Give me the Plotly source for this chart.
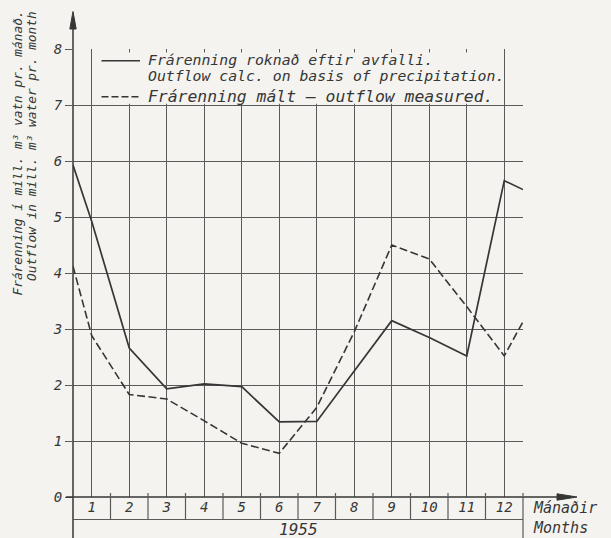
import plotly.graph_objects as go

# ---------------- data ----------------
months = [1, 2, 3, 4, 5, 6, 7, 8, 9, 10, 11, 12]
month_labels = ["1", "2", "3", "4", "5", "6", "7", "8", "9", "10", "11", "12"]
# x positions of plotted points (line starts at the y-axis and ends at the right frame)
x_points = [0.5, 1, 2, 3, 4, 5, 6, 7, 8, 9, 10, 11, 12, 12.5]
outflow_calculated = [5.93, 4.92, 2.66, 1.93, 2.02, 1.97, 1.34, 1.35, 2.25, 3.15, 2.85, 2.52, 5.65, 5.49]
outflow_measured = [4.12, 2.88, 1.83, 1.75, 1.36, 0.96, 0.78, 1.60, 2.95, 4.50, 4.25, 3.40, 2.52, 3.13]
y_ticks = [0, 1, 2, 3, 4, 5, 6, 7, 8]
year_label = "1955"
name_calc = ["Frárenning roknað eftir avfalli.", "Outflow calc. on basis of precipitation."]
name_meas = "Frárenning mált – outflow measured."
y_title = ["Frárenning í mill. m³ vatn pr. mánað.", "Outflow in mill. m³ water pr. month"]
x_title = ["Mánaðir", "Months"]

# ---------------- style ----------------
BG = "#f4f3ef"
INK = "#363636"
GRID = "#5a5a5a"
FONT = "DejaVu Sans Mono"

W, H = 611, 538
ML, MR, MT, MB = 73, 88, 49, 41
PW = W - ML - MR
PH = H - MT - MB


def px(xp):
    return (xp - ML) / PW


def py(yp):
    return (H - MB - yp) / PH


fig = go.Figure()
fig.add_trace(go.Scatter(x=x_points, y=outflow_calculated, mode="lines",
                         line=dict(color=INK, width=1.7), name=" ".join(name_calc),
                         showlegend=False))
fig.add_trace(go.Scatter(x=x_points, y=outflow_measured, mode="lines",
                         line=dict(color=INK, width=1.6, dash="8px,3.5px"), name=name_meas,
                         showlegend=False))

shapes = []
# hide vertical grid behind legend text
shapes.append(dict(type="rect", xref="x", yref="y", x0=1.05, x1=11.95, y0=7.025, y1=7.94,
                   fillcolor=BG, line=dict(width=0), layer="between"))
# y axis line + arrow
shapes.append(dict(type="line", xref="paper", yref="paper", x0=0, x1=0, y0=py(H), y1=py(25),
                   line=dict(color=INK, width=1.5)))
shapes.append(dict(type="path", xref="paper", yref="paper",
                   path=f"M {px(ML)} {py(11.5)} L {px(ML-3.2)} {py(29)} L {px(ML+3.2)} {py(29)} Z",
                   fillcolor=INK, line=dict(color=INK, width=1)))
# x axis line + arrow
shapes.append(dict(type="line", xref="paper", yref="paper", x0=px(66), x1=px(562), y0=0, y1=0,
                   line=dict(color=INK, width=1.5)))
shapes.append(dict(type="path", xref="paper", yref="paper",
                   path=f"M {px(577)} 0 L {px(557)} {py(H-MB-3.2)} L {px(557)} {py(H-MB+3.2)} Z",
                   fillcolor=INK, line=dict(color=INK, width=1)))
# month table below axis
row1_bottom = 519.5
shapes.append(dict(type="line", xref="paper", yref="paper", x0=0, x1=1, y0=py(row1_bottom), y1=py(row1_bottom),
                   line=dict(color=GRID, width=1.2)))
for k in range(1, 12):
    shapes.append(dict(type="line", xref="paper", yref="paper", x0=k / 12, x1=k / 12,
                       y0=py(493), y1=py(row1_bottom), line=dict(color=GRID, width=1.2)))
shapes.append(dict(type="line", xref="paper", yref="paper", x0=1, x1=1, y0=py(493), y1=py(H),
                   line=dict(color=GRID, width=1.2)))
# legend samples
shapes.append(dict(type="line", xref="paper", yref="paper", x0=px(101.5), x1=px(140), y0=py(60.7), y1=py(60.7),
                   line=dict(color=INK, width=1.5)))
shapes.append(dict(type="line", xref="paper", yref="paper", x0=px(101.5), x1=px(140), y0=py(96.7), y1=py(96.7),
                   line=dict(color=INK, width=1.5, dash="7px,3px")))

ann = []
lf = dict(family=FONT, size=14.8, color=INK, style="italic")
ann.append(dict(xref="paper", yref="paper", x=px(146), y=py(59.5), text=name_calc[0], showarrow=False,
                xanchor="left", yanchor="middle", font=lf))
ann.append(dict(xref="paper", yref="paper", x=px(146), y=py(76), text=name_calc[1], showarrow=False,
                xanchor="left", yanchor="middle", font=lf))
ann.append(dict(xref="paper", yref="paper", x=px(146), y=py(96.5), text=name_meas, showarrow=False,
                xanchor="left", yanchor="middle", font=dict(family=FONT, size=16.4, color=INK, style="italic")))
tf = dict(family=FONT, size=12.8, color=INK, style="italic")
ann.append(dict(xref="paper", yref="paper", x=px(17), y=py(153.5), text=y_title[0], showarrow=False,
                textangle=-90, xanchor="center", yanchor="middle", font=tf))
ann.append(dict(xref="paper", yref="paper", x=px(32), y=py(146), text=y_title[1], showarrow=False,
                textangle=-90, xanchor="center", yanchor="middle", font=tf))
ann.append(dict(xref="paper", yref="paper", x=px(531), y=py(517.5), text="<br>".join(x_title), showarrow=False,
                xanchor="left", yanchor="middle", align="left",
                font=dict(family=FONT, size=15, color=INK, style="italic")))
ann.append(dict(xref="paper", yref="paper", x=0.5, y=py(529.5), text=year_label, showarrow=False,
                xanchor="center", yanchor="middle", font=dict(family=FONT, size=16, color=INK, style="italic")))

fig.update_layout(
    width=W, height=H, autosize=False,
    margin=dict(l=ML, r=MR, t=MT, b=MB, pad=0),
    paper_bgcolor=BG, plot_bgcolor=BG,
    showlegend=False,
    font=dict(family=FONT, color=INK, style="italic"),
    shapes=shapes, annotations=ann,
    xaxis=dict(range=[0.5, 12.5], tickmode="array", tickvals=months, ticktext=month_labels,
               showgrid=True, gridcolor=GRID, gridwidth=1, zeroline=False, showline=False,
               ticks="", tickfont=dict(family=FONT, size=14, color=INK, style="italic"),
               fixedrange=True),
    yaxis=dict(range=[0, 8.001], tickmode="array", tickvals=y_ticks,
               showgrid=True, gridcolor=GRID, gridwidth=1, zeroline=False, showline=False,
               ticks="outside", ticklen=7, tickcolor=GRID, tickwidth=1,
               tickfont=dict(family=FONT, size=14, color=INK, style="italic"),
               fixedrange=True),
)

fig.write_html(
    "out.html",
    config={"displayModeBar": False, "staticPlot": True},
    post_script="document.body.style.margin='0';document.body.style.padding='0';"
                "document.body.style.overflow='hidden';document.body.style.background='" + BG + "';",
)
